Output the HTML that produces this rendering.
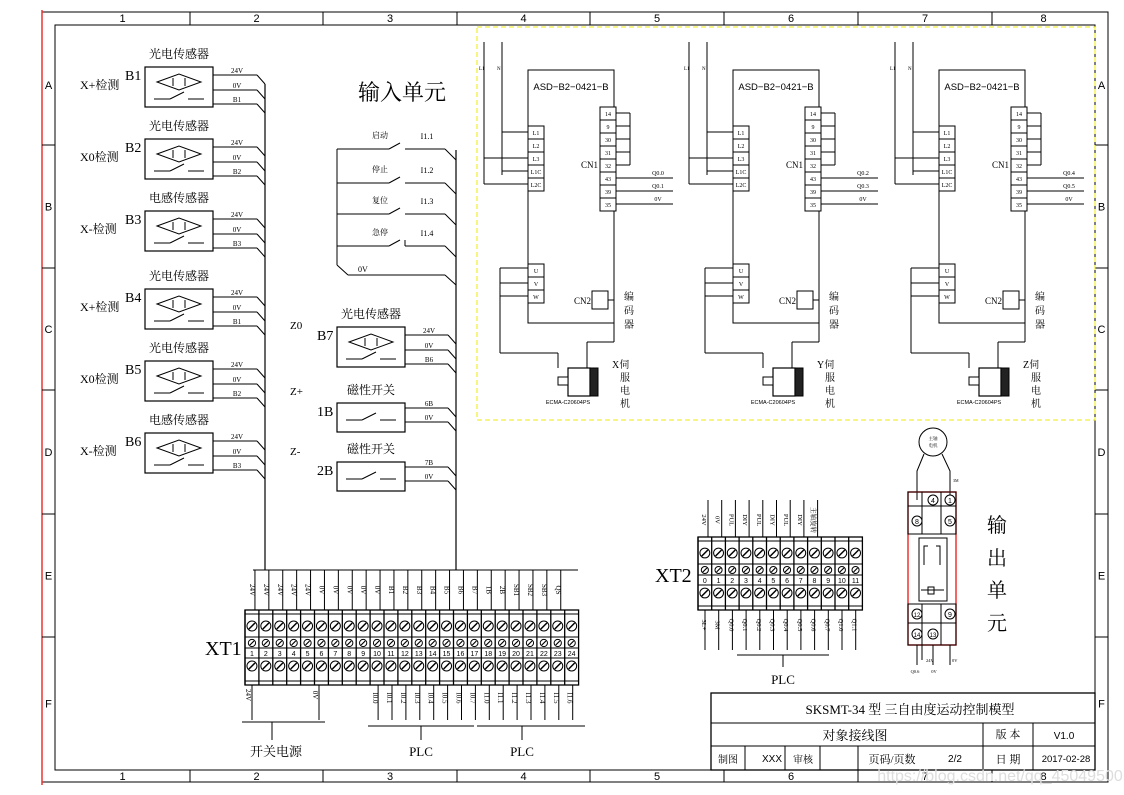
<!DOCTYPE html><html><head><meta charset="utf-8"><style>
body{margin:0;background:#fff}
svg{display:block}
text{font-family:"Liberation Serif","Noto Serif CJK SC",serif;fill:#000}
.s{font-family:"Liberation Sans","Noto Sans CJK SC",sans-serif}
</style></head><body>
<svg id="d" width="1124" height="795" viewBox="0 0 1124 795" xmlns="http://www.w3.org/2000/svg"></svg>
<script>
var o='';
function L(x1,y1,x2,y2,c,w,extra){o+='<line x1="'+x1+'" y1="'+y1+'" x2="'+x2+'" y2="'+y2+'" stroke="'+(c||'#000')+'" stroke-width="'+(w||1)+'" '+(extra||'')+'/>';}
function R(x,y,w,h,c,sw,f,extra){o+='<rect x="'+x+'" y="'+y+'" width="'+w+'" height="'+h+'" fill="'+(f||'none')+'" stroke="'+(c||'#000')+'" stroke-width="'+(sw||1)+'" '+(extra||'')+'/>';}
function T(x,y,s,t,sz,a,cls,rot){o+='<text x="'+x+'" y="'+y+'" font-size="'+sz+'" '+(a?'text-anchor="'+a+'" ':'')+(cls?'class="'+cls+'" ':'')+(rot?'transform="rotate('+rot+' '+x+' '+y+')" ':'')+'>'+t+'</text>';}
function P(d,c,w){o+='<path d="'+d+'" fill="none" stroke="'+(c||'#000')+'" stroke-width="'+(w||1)+'"/>';}
function C(x,y,r,f){o+='<circle cx="'+x+'" cy="'+y+'" r="'+r+'" fill="'+(f||'#fff')+'" stroke="#000"/>';}
R(42,12,1066,770,'#000',1);
L(42,10,42,785,'#e33',1.5);
R(55,25,1040,745,'#000',1);
var cx=[55,190,323,457,590,724,858,992,1095];
for(var i=0;i<8;i++){T((cx[i]+cx[i+1])/2,22,'',String(i+1),11,'middle','s');T((cx[i]+cx[i+1])/2,780,'',String(i+1),11,'middle','s');
 if(i>0){L(cx[i],12,cx[i],25);L(cx[i],770,cx[i],782);}}
var ry=[25,145,268,390,514,637,770],rl='ABCDEF';
for(var i=0;i<6;i++){var m=(ry[i]+ry[i+1])/2+4;T(48.5,m,'',rl[i],11,'middle','s');T(1101.5,m,'',rl[i],11,'middle','s');
 if(i>0){L(42,ry[i],55,ry[i]);L(1095,ry[i],1108,ry[i]);}}
function sw(x,y){L(x,y,x+16,y);L(x+16,y,x+30,y-7);L(x+34,y,x+50,y);}
function sensor(x,y,id,title,lab,wl,bus,diam){
 R(x,y,68,diam?40:29,'#000',1.2);
 T(x+34,y-9,'',title,12,'middle');
 T(x-20,y+13,'',id,14);
 if(lab)T(x-65,y+22,'',lab,12);
 if(diam){P('M'+(x+12)+' '+(y+15)+' L'+(x+34)+' '+(y+7)+' L'+(x+56)+' '+(y+15)+' L'+(x+34)+' '+(y+23)+' Z');L(x+28,y+11,x+28,y+19);L(x+40,y+11,x+40,y+19);sw(x+9,y+32);}
 else sw(x+9,y+17);
 var ys=diam?[y+8,y+23,y+37]:[y+5,y+19];
 for(var k=0;k<ys.length;k++){L(x+68,ys[k],bus-8,ys[k]);L(bus-8,ys[k],bus,ys[k]+9);T(x+92,ys[k]-2,'',wl[k],7,'middle');}
}
var sy=[67,139,211,289,361,433],tt=['光电传感器','光电传感器','电感传感器','光电传感器','光电传感器','电感传感器'],lb=['X+检测','X0检测','X-检测','X+检测','X0检测','X-检测'],bn=['B1','B2','B3','B1','B2','B3'];
for(var i=0;i<6;i++)sensor(145,sy[i],'B'+(i+1),tt[i],lb[i],['24V','0V',bn[i]],265,1);
L(265,84,265,570,'#000',1.2);
sensor(337,327,'B7','光电传感器','',['24V','0V','B6'],456,1);
T(290,329,'','Z0',11);T(290,395,'','Z+',11);T(290,455,'','Z-',11);
sensor(337,403,'1B','磁性开关','',['6B','0V'],456,0);
sensor(337,462,'2B','磁性开关','',['7B','0V'],456,0);
T(358,100,'','输入单元',22);
L(337,149,337,265);
var iy=[149,183,214,246],il=['启动','停止','复位','急停'];
for(var i=0;i<4;i++){L(337,iy[i],389,iy[i]);L(389,iy[i],400,iy[i]-6);L(405,iy[i],445,iy[i]);L(445,iy[i],456,iy[i]+11);T(380,iy[i]-11,'',il[i],8,'middle');T(427,iy[i]-10,'','I1.'+(i+1),8,'middle');}
L(405,240,405,246);
L(337,265,348,275);L(348,275,445,275);L(445,275,456,285);T(358,272,'','0V',8);
L(456,150,456,570,'#000',1.2);
R(477,27,618,393,'#ee0',1,'none','stroke-dasharray="5,3"');
function drv(bx,q1,q2,name){
 R(bx,70,86,253);T(bx+43,90,'','ASD−B2−0421−B',9.5,'middle','s');
 L(bx-44,42,bx-44,184);L(bx-26,42,bx-26,175);T(bx-49,70,'','L1',5);T(bx-31,70,'','N',5);
 L(bx-26,132,bx,132);L(bx-44,158,bx,158);L(bx-26,171,bx,171);L(bx-26,132,bx-26,171);L(bx-44,184,bx,184);
 var ls=['L1','L2','L3','L1C','L2C'];
 for(var k=0;k<5;k++){R(bx,126+k*13,16,13,'#000',1,'#fff');T(bx+8,135+k*13,'',ls[k],6,'middle');}
 var cs=['14','9','30','31','32','43','39','35'];
 for(var k=0;k<8;k++){R(bx+72,107+k*13,16,13,'#000',1,'#fff');T(bx+80,116+k*13,'',cs[k],6,'middle');}
 L(bx+88,113,bx+102,113);L(bx+102,113,bx+102,165);for(var k=1;k<5;k++)L(bx+88,113+k*13,bx+102,113+k*13);
 T(bx+70,168,'','CN1',9,'end');
 L(bx+88,178,bx+145,178);L(bx+88,191,bx+145,191);L(bx+88,204,bx+145,204);
 T(bx+130,175,'',q1,6,'middle');T(bx+130,188,'',q2,6,'middle');T(bx+130,201,'','0V',6,'middle');
 var us=['U','V','W'];
 L(bx-28,268,bx,268);L(bx-28,268,bx-28,353);L(bx-28,283,bx,283);L(bx-28,296,bx,296);
 for(var k=0;k<3;k++){R(bx,264+k*13,16,13,'#000',1,'#fff');T(bx+8,273+k*13,'',us[k],6,'middle');}
 L(bx-28,353,bx+30,353);L(bx+30,353,bx+30,368);
 R(bx+64,291,16,18);T(bx+63,304,'','CN2',9,'end');L(bx+80,300,bx+86,300);L(bx+86,300,bx+86,342);L(bx+86,342,bx+59,342);L(bx+59,342,bx+59,370);
 R(bx+40,368,22,28,'#000',1.2,'#fff');R(bx+62,368,8,28,'#000',1,'#222');R(bx+30,377,10,8,'#000',1,'#fff');
 T(bx+40,404,'','ECMA-C20604PS',5.5,'middle','s');
 T(bx+96,300,'','编',10);T(bx+96,314,'','码',10);T(bx+96,328,'','器',10);
 T(bx+84,368,'',name+'伺',10);T(bx+92,381,'','服',10);T(bx+92,394,'','电',10);T(bx+92,407,'','机',10);
}
drv(528,'Q0.0','Q0.1','X');drv(733,'Q0.2','Q0.3','Y');drv(939,'Q0.4','Q0.5','Z');
function tb(x0,y0,n,w,h,nums){
 R(x0,y0,n*w,h,'#000',1.3);
 L(x0,y0+4,x0+n*w,y0+4);L(x0,y0+h-4,x0+n*w,y0+h-4);
 L(x0,y0+38,x0+n*w,y0+38);L(x0,y0+48,x0+n*w,y0+48);L(x0,y0+27,x0+n*w,y0+27);
 for(var k=0;k<n;k++){var x=x0+k*w;L(x,y0,x,y0+h,'#000',1.3);
  C(x+w/2,y0+16,w*0.36);L(x+w/2-3,y0+19,x+w/2+3,y0+13,'#000',1.5);
  C(x+w/2,y0+33,w*0.26);L(x+w/2-2,y0+35,x+w/2+2,y0+31,'#000',1.2);
  T(x+w/2,y0+46,'',nums[k],7,'middle','s');
  C(x+w/2,y0+56,w*0.36);L(x+w/2-3,y0+59,x+w/2+3,y0+53,'#000',1.5);}
}
var n1=[];for(var k=1;k<=24;k++)n1.push(String(k));
var x1=245,w1=13.9;
tb(x1,610,24,w1,75,n1);
T(205,655,'','XT1',20);
var tl=['24V','24V','24V','24V','24V','0V','0V','0V','0V','0V','B1','B2','B3','B4','B5','B6','B7','1B','2B','SB1','SB2','SB3','QS'];
L(253,570,578,570);
for(var k=0;k<23;k++){var xx=x1+k*w1+w1/2+3;L(xx,570,xx,610);T(xx-5,590,'',tl[k],7,'middle','',90);}
var bl=['I0.0','I0.1','I0.2','I0.3','I0.4','I0.5','I0.6','I0.7','I1.0','I1.1','I1.2','I1.3','I1.4','I1.5','I1.6'];
L(252,685,252,720);T(246,695,'','24V',7,'middle','',90);L(319,685,319,720);T(313,695,'','0V',7,'middle','',90);
L(242,722,325,722);L(272,722,272,740);T(276,756,'','开关电源',13,'middle');
for(var k=0;k<15;k++){var xx=x1+(k+9)*w1+3;L(xx+5,685,xx+5,720);T(xx,698,'',bl[k],7,'middle','',90);}
L(368,726,474,726);L(421,726,421,740);T(421,756,'','PLC',13,'middle');
L(477,726,585,726);L(522,726,522,740);T(522,756,'','PLC',13,'middle');
var n2=[];for(var k=0;k<12;k++)n2.push(String(k));
tb(698,537,12,13.7,73,n2);
T(655,582,'','XT2',20);
var t2=['24V','0V','PUL','DIY','PUL','DIY','PUL','DIY','主轴旋转'];
for(var k=0;k<9;k++){var xx=698+k*13.7+10;L(xx,500,xx,537);T(xx-6,520,'',t2[k],6.5,'middle','',90);}
var b2=['3L+','3M','Q0.0','Q0.1','Q0.2','Q0.3','Q0.4','Q0.5','Q0.6','Q0.7','Q1.0','Q1.1'];
for(var k=0;k<12;k++){var xx=698+k*13.7+7;L(xx,610,xx,650);T(xx-3,625,'',b2[k],6.5,'middle','',90);}
L(737,655,829,655);L(783,655,783,667);T(783,684,'','PLC',13,'middle');
C(933,442,14,'#fff');T(933,440,'','主轴',4.5,'middle');T(933,447,'','电机',4.5,'middle');
P('M924 454 L917 471 L917 500');P('M942 454 L950 471 L950 500');T(953,482,'','3M',4,'',90);
R(908,492,48,153,'#e33',1.5);
R(908,492,48,42);L(922,492,922,534);L(941,492,941,534);L(908,506,956,506);
C(933,500,5);T(933,503,'','4',7,'middle','s');C(950,500,5);T(950,503,'','1',7,'middle','s');
C(917,521,5);T(917,524,'','8',7,'middle','s');C(950,521,5);T(950,524,'','5',7,'middle','s');
R(919,538,28,63);
P('M924 550 L924 546 L928 546 M924 550 L924 565 M940 550 L940 546 L936 546 M940 550 L940 565');
R(928,587,6,7);L(921,590,944,590);
R(908,604,48,41);L(922,604,922,645);L(941,604,941,645);L(908,623,956,623);
C(917,614,5);T(917,617,'','12',6,'middle','s');C(950,614,5);T(950,617,'','9',7,'middle','s');
C(917,634,5);T(917,637,'','14',6,'middle','s');C(933,634,5);T(933,637,'','13',6,'middle','s');
L(917,645,917,665);L(922,645,922,660);L(933,645,933,665);L(950,645,950,665);
T(915,673,'','Q0.6',4.5,'middle');T(926,662,'','24V',4.5);T(934,673,'','0V',4.5,'middle');T(952,662,'','0V',4.5);
T(997,532,'','输',20,'middle');T(997,565,'','出',20,'middle');T(997,597,'','单',20,'middle');T(997,630,'','元',20,'middle');
R(711,693,384,77,'#000',1.3);L(711,723,1095,723);L(711,746,1095,746);
L(983,723,983,770);L(1033,723,1033,770);
L(745,746,745,770);L(785,746,785,770);L(820,746,820,770);L(858,746,858,770);
T(910,714,'','SKSMT-34 型 三自由度运动控制模型',13,'middle');
T(855,740,'','对象接线图',13,'middle');T(1008,738,'','版 本',11,'middle');T(1064,739,'','V1.0',10,'middle','s');
T(728,763,'','制图',10,'middle');T(772,762,'','XXX',10,'middle','s');T(803,763,'','审核',10,'middle');
T(892,763,'','页码/页数',11,'middle');T(955,762,'','2/2',10,'middle','s');T(1008,763,'','日 期',11,'middle');T(1066,762,'','2017-02-28',9.5,'middle','s');
o+='<text x="1000" y="781" font-size="16" text-anchor="middle" class="s" style="fill:#ddd">https://blog.csdn.net/qq_45049500</text>';
document.getElementById('d').innerHTML=o;
</script>
</body></html>
